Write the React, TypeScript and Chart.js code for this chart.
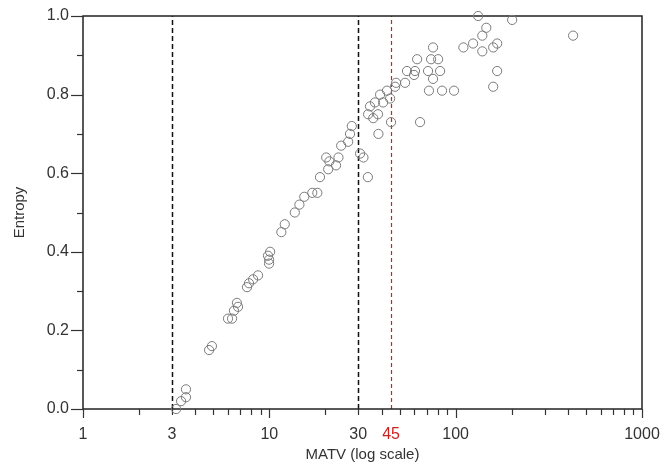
import React, { useEffect, useRef } from "react";
import { Chart, registerables } from "chart.js";

Chart.register(...registerables);

// ---- data ----
const matv = [
  3.16, 3.36, 3.57, 3.57, 4.75, 4.92, 6.0, 6.31, 6.46, 6.79, 6.7, 7.59, 7.78, 8.18, 8.7,
  9.84, 10.1, 9.97, 9.97, 11.6, 12.1, 13.7, 14.5, 15.4, 17.0, 18.1, 18.7, 20.7, 20.2, 21.0,
  22.8, 23.5, 24.3, 26.5, 27.1, 27.7, 30.7, 32.0, 33.8, 38.5, 34.7, 33.9, 36.1, 38.3, 36.9,
  39.3, 40.8, 42.8, 44.5, 45.0, 47.3, 47.9, 53.5, 54.8, 60.5, 59.8, 64.4, 62.1, 71.9, 71.1,
  73.8, 75.6, 75.6, 80.5, 82.5, 84.5, 98, 110, 124, 132, 139, 146, 139, 159, 159,
  167, 167, 201, 427,
];
const entropy = [
  0.0, 0.02, 0.03, 0.05, 0.15, 0.16, 0.23, 0.23, 0.25, 0.26, 0.27, 0.31, 0.32, 0.33, 0.34,
  0.39, 0.4, 0.37, 0.38, 0.45, 0.47, 0.5, 0.52, 0.54, 0.55, 0.55, 0.59, 0.61, 0.64, 0.63,
  0.62, 0.64, 0.67, 0.68, 0.7, 0.72, 0.65, 0.64, 0.59, 0.7, 0.77, 0.75, 0.74, 0.75, 0.78,
  0.8, 0.78, 0.81, 0.79, 0.73, 0.82, 0.83, 0.83, 0.86, 0.86, 0.85, 0.73, 0.89, 0.81, 0.86,
  0.89, 0.84, 0.92, 0.89, 0.86, 0.81, 0.81, 0.92, 0.93, 1.0, 0.95, 0.97, 0.91, 0.82, 0.92,
  0.93, 0.86, 0.99, 0.95,
];

const xLabelValues = [1, 3, 10, 30, 45, 100, 1000];
const xMajorTicks = [1, 10, 100, 1000];
const xMinorTicks = [2, 3, 4, 5, 6, 7, 8, 9, 20, 30, 40, 50, 60, 70, 80, 90, 200, 300, 400, 500, 600, 700, 800, 900];
const xHighlight = 45;
const yTickValues = [0, 0.1, 0.2, 0.3, 0.4, 0.5, 0.6, 0.7, 0.8, 0.9, 1.0];
const yLabelValues = [0, 0.2, 0.4, 0.6, 0.8, 1.0];
const blackRefLines = [3, 30];
const redRefLines = [45];

const TEXT = "#333";
const RED = "#cc2222";
const FONT = "Liberation Sans, Arial, sans-serif";

const axesPlugin = {
  id: "axesPlugin",
  beforeDatasetsDraw(chart: any) {
    const { ctx, chartArea, scales } = chart;
    const { left, right, top, bottom } = chartArea;
    const x = scales.x;
    const y = scales.y;
    ctx.save();
    // reference lines
    ctx.lineWidth = 1.5;
    ctx.strokeStyle = "#111";
    ctx.setLineDash([5, 3]);
    for (const v of blackRefLines) {
      const px = Math.round(x.getPixelForValue(v)) + 0.5;
      ctx.beginPath();
      ctx.moveTo(px, bottom);
      ctx.lineTo(px, top);
      ctx.stroke();
    }
    ctx.strokeStyle = RED;
    ctx.lineWidth = 1.2;
    ctx.setLineDash([4, 3]);
    for (const v of redRefLines) {
      const px = Math.round(x.getPixelForValue(v)) + 0.5;
      ctx.beginPath();
      ctx.moveTo(px, bottom);
      ctx.lineTo(px, top);
      ctx.stroke();
    }
    ctx.setLineDash([]);
    // frame
    ctx.strokeStyle = "#222";
    ctx.lineWidth = 1.5;
    ctx.strokeRect(left, top, right - left, bottom - top);
    // x ticks
    ctx.lineWidth = 1.2;
    ctx.strokeStyle = "#333";
    for (const v of xMajorTicks) {
      const px = Math.round(x.getPixelForValue(v)) + 0.5;
      ctx.beginPath();
      ctx.moveTo(px, bottom);
      ctx.lineTo(px, bottom + 9);
      ctx.stroke();
    }
    for (const v of xMinorTicks) {
      const px = Math.round(x.getPixelForValue(v)) + 0.5;
      ctx.beginPath();
      ctx.moveTo(px, bottom);
      ctx.lineTo(px, bottom + 6);
      ctx.stroke();
    }
    // y ticks
    for (const v of yTickValues) {
      const py = Math.round(y.getPixelForValue(v)) + 0.5;
      const major = yLabelValues.some((l) => Math.abs(l - v) < 1e-6);
      ctx.beginPath();
      ctx.moveTo(left, py);
      ctx.lineTo(left - (major ? 12 : 6), py);
      ctx.stroke();
    }
    ctx.restore();
  },
};

export default function App() {
  const ref = useRef<HTMLCanvasElement | null>(null);
  useEffect(() => {
    if (!ref.current) return;
    const points = matv.map((v, i) => ({ x: v, y: entropy[i] }));
    const chart = new Chart(ref.current, {
      type: "scatter",
      data: {
        datasets: [
          {
            data: points,
            pointStyle: "circle",
            pointRadius: 4.6,
            pointBackgroundColor: "rgba(0,0,0,0)",
            pointBorderColor: "#7a7a7a",
            pointBorderWidth: 1,
            clip: false as any,
          },
        ],
      },
      options: {
        responsive: false,
        animation: false,
        devicePixelRatio: 1,
        layout: { padding: { top: 16, right: 22, left: 0, bottom: 0 } },
        plugins: { legend: { display: false }, tooltip: { enabled: false } },
        scales: {
          x: {
            type: "logarithmic",
            min: 1,
            max: 1000,
            afterFit: (s: any) => {
              s.height = 59;
              s.paddingLeft = 0;
              s.paddingRight = 0;
            },
            afterBuildTicks: (s: any) => {
              const all = Array.from(new Set([...xMajorTicks, ...xMinorTicks, ...xLabelValues])).sort((a, b) => a - b);
              s.ticks = all.map((v) => ({ value: v }));
            },
            grid: { display: true, drawOnChartArea: false, drawTicks: false, color: "rgba(0,0,0,0)" },
            border: { display: false },
            ticks: {
              autoSkip: false,
              maxRotation: 0,
              padding: 16,
              font: { family: FONT, size: 16 },
              color: (c: any) => (c.tick && c.tick.value === xHighlight ? RED : TEXT),
              callback: (v: any) => (xLabelValues.includes(Number(v)) ? String(v) : ""),
            },
            title: {
              display: true,
              text: "MATV (log scale)",
              color: TEXT,
              font: { family: FONT, size: 15 },
              padding: { top: 0, bottom: 4 },
            },
          },
          y: {
            type: "linear",
            min: 0,
            max: 1,
            afterFit: (s: any) => {
              s.width = 83;
              s.paddingTop = 0;
              s.paddingBottom = 0;
            },
            afterBuildTicks: (s: any) => {
              s.ticks = yTickValues.map((v) => ({ value: v }));
            },
            grid: { display: true, drawOnChartArea: false, drawTicks: false, color: "rgba(0,0,0,0)" },
            border: { display: false },
            ticks: {
              autoSkip: false,
              padding: 14,
              font: { family: FONT, size: 16 },
              color: TEXT,
              callback: (v: any) =>
                yLabelValues.some((l) => Math.abs(l - Number(v)) < 1e-6) ? Number(v).toFixed(1) : "",
            },
            title: {
              display: true,
              text: "Entropy",
              color: TEXT,
              font: { family: FONT, size: 15 },
              padding: { top: 11, bottom: 0 },
            },
          },
        },
      },
      plugins: [axesPlugin],
    });
    return () => chart.destroy();
  }, []);
  return (
    <div style={{ position: "absolute", left: 0, top: 0, width: 664, height: 468, background: "#fff" }}>
      <canvas ref={ref} width={664} height={468} />
    </div>
  );
}
